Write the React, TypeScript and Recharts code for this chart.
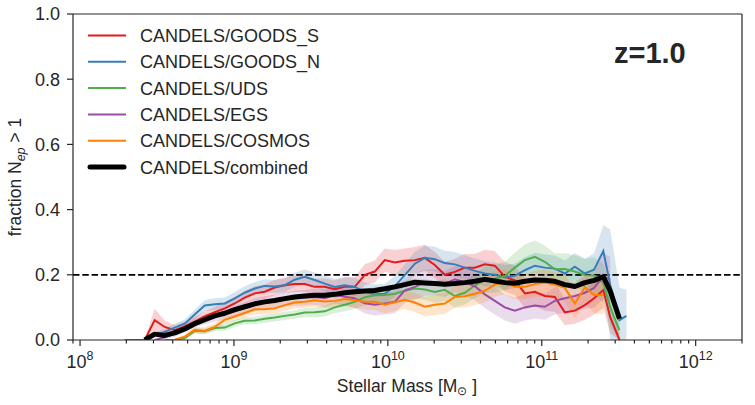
import React from 'react';
import { ComposedChart, Line, Area, XAxis, YAxis, ReferenceLine } from 'recharts';

// log10 stellar mass bin centres
const logMass = [
  8.29, 8.355, 8.42, 8.485, 8.55, 8.615, 8.68, 8.745, 8.81, 8.875,
  8.94, 9.005, 9.07, 9.135, 9.2, 9.265, 9.33, 9.395, 9.46, 9.525,
  9.59, 9.655, 9.72, 9.785, 9.85, 9.915, 9.98, 10.045, 10.11, 10.175,
  10.24, 10.305, 10.37, 10.435, 10.5, 10.565, 10.63, 10.695, 10.76, 10.825,
  10.89, 10.955, 11.02, 11.085, 11.15, 11.215, 11.28, 11.34, 11.4, 11.445,
  11.505, 11.55,
];

const goodsS = [
  null, null, 0, 0.061, 0.04, 0.03, 0.042, 0.056, 0.072, 0.085,
  0.097, 0.112, 0.13, 0.143, 0.148, 0.161, 0.168, 0.172, 0.172, 0.163,
  0.163, 0.156, 0.163, 0.163, 0.2, 0.21, 0.245, 0.238, 0.243, 0.245,
  0.252, 0.23, 0.2, 0.209, 0.222, 0.222, 0.232, 0.228, 0.194, 0.183,
  0.143, 0.148, 0.135, 0.132, 0.085, 0.09, 0.107, 0.128, 0.153, 0.07,
  0, null,
];
const goodsSErr = [
  null, null, 0, 0.035, 0.02, 0.015, 0.015, 0.015, 0.016, 0.017,
  0.018, 0.02, 0.02, 0.022, 0.022, 0.024, 0.024, 0.025, 0.025, 0.025,
  0.026, 0.027, 0.028, 0.03, 0.032, 0.034, 0.036, 0.038, 0.038, 0.04,
  0.04, 0.04, 0.04, 0.04, 0.042, 0.042, 0.045, 0.045, 0.045, 0.045,
  0.045, 0.045, 0.045, 0.045, 0.04, 0.04, 0.045, 0.05, 0.055, 0.05,
  0.02, null,
];

const goodsN = [
  0, 0, 0, 0.015, 0.025, 0.038, 0.05, 0.078, 0.106, 0.11,
  0.112, 0.128, 0.145, 0.158, 0.166, 0.164, 0.168, 0.185, 0.194, 0.184,
  0.173, 0.163, 0.168, 0.163, 0.148, 0.14, 0.142, 0.165, 0.199, 0.234,
  0.252, 0.248, 0.236, 0.232, 0.222, 0.212, 0.204, 0.2, 0.192, 0.197,
  0.214, 0.228, 0.222, 0.219, 0.204, 0.225, 0.204, 0.216, 0.273, 0.169,
  0.061, 0.074,
];
const goodsNErr = [
  0, 0, 0, 0.008, 0.01, 0.012, 0.013, 0.015, 0.017, 0.018,
  0.018, 0.019, 0.02, 0.02, 0.02, 0.02, 0.021, 0.022, 0.022, 0.023,
  0.024, 0.025, 0.026, 0.027, 0.028, 0.03, 0.03, 0.032, 0.034, 0.036,
  0.038, 0.038, 0.038, 0.038, 0.038, 0.038, 0.038, 0.038, 0.038, 0.038,
  0.04, 0.04, 0.04, 0.04, 0.04, 0.042, 0.045, 0.05, 0.08, 0.17,
  0.1, 0.08,
];

const uds = [
  null, null, null, null, null, 0, 0.006, 0.028, 0.027, 0.037,
  0.038, 0.051, 0.059, 0.06, 0.065, 0.069, 0.074, 0.078, 0.084, 0.085,
  0.088, 0.1, 0.108, 0.117, 0.131, 0.137, 0.138, 0.142, 0.151, 0.158,
  0.155, 0.147, 0.154, 0.135, 0.145, 0.167, 0.185, 0.188, 0.196, 0.222,
  0.245, 0.255, 0.24, 0.217, 0.218, 0.21, 0.199, 0.198, 0.175, 0.1,
  0.03, null,
];
const udsErr = [
  null, null, null, null, null, 0, 0.005, 0.008, 0.008, 0.009,
  0.01, 0.01, 0.011, 0.011, 0.012, 0.012, 0.013, 0.013, 0.014, 0.015,
  0.016, 0.018, 0.02, 0.022, 0.024, 0.026, 0.027, 0.028, 0.03, 0.031,
  0.032, 0.033, 0.034, 0.035, 0.036, 0.038, 0.04, 0.042, 0.044, 0.046,
  0.048, 0.05, 0.05, 0.048, 0.048, 0.05, 0.05, 0.055, 0.06, 0.06,
  0.03, null,
];

const egs = [
  null, null, null, 0, 0.008, 0.02, 0.035, 0.052, 0.063, 0.072,
  0.079, 0.088, 0.098, 0.108, 0.114, 0.118, 0.124, 0.128, 0.13, 0.132,
  0.128, 0.138, 0.133, 0.128, 0.113, 0.108, 0.112, 0.117, 0.152, 0.163,
  0.176, 0.177, 0.172, 0.186, 0.178, 0.165, 0.14, 0.12, 0.1, 0.09,
  0.1, 0.106, 0.102, 0.12, 0.128, 0.135, 0.145, 0.16, 0.195, 0.185,
  null, null,
];
const egsErr = [
  null, null, null, 0, 0.006, 0.01, 0.012, 0.014, 0.015, 0.016,
  0.017, 0.018, 0.019, 0.02, 0.02, 0.021, 0.022, 0.023, 0.024, 0.025,
  0.026, 0.027, 0.028, 0.03, 0.032, 0.033, 0.034, 0.036, 0.038, 0.04,
  0.04, 0.04, 0.04, 0.04, 0.042, 0.042, 0.042, 0.042, 0.04, 0.04,
  0.04, 0.04, 0.04, 0.042, 0.045, 0.045, 0.05, 0.06, 0.07, 0.07,
  null, null,
];

const cosmos = [
  null, null, null, null, 0, 0, 0.01, 0.031, 0.028, 0.04,
  0.062, 0.072, 0.083, 0.094, 0.094, 0.097, 0.107, 0.115, 0.117, 0.122,
  0.118, 0.12, 0.126, 0.122, 0.117, 0.117, 0.108, 0.116, 0.123, 0.115,
  0.102, 0.108, 0.112, 0.132, 0.134, 0.142, 0.151, 0.17, 0.178, 0.163,
  0.163, 0.172, 0.176, 0.17, 0.16, 0.112, 0.162, 0.138, 0.138, null,
  null, null,
];
const cosmosErr = [
  null, null, null, null, 0, 0.004, 0.007, 0.01, 0.01, 0.011,
  0.012, 0.013, 0.014, 0.015, 0.016, 0.016, 0.017, 0.018, 0.018, 0.019,
  0.02, 0.02, 0.021, 0.022, 0.024, 0.025, 0.026, 0.027, 0.028, 0.029,
  0.03, 0.031, 0.032, 0.033, 0.034, 0.035, 0.036, 0.037, 0.038, 0.038,
  0.038, 0.04, 0.04, 0.04, 0.042, 0.045, 0.05, 0.055, 0.06, null,
  null, null,
];

const combined = [
  null, null, 0, 0.018, 0.014, 0.022, 0.034, 0.05, 0.062, 0.074,
  0.082, 0.093, 0.102, 0.111, 0.117, 0.121, 0.127, 0.132, 0.135, 0.137,
  0.137, 0.14, 0.145, 0.148, 0.15, 0.152, 0.157, 0.163, 0.17, 0.177,
  0.175, 0.173, 0.171, 0.173, 0.176, 0.18, 0.186, 0.181, 0.176, 0.174,
  0.18, 0.184, 0.183, 0.18, 0.17, 0.164, 0.176, 0.183, 0.194, 0.15,
  0.065, null,
];

const yTicks = [0, 0.2, 0.4, 0.6, 0.8, 1.0];
const decades = [8, 9, 10, 11, 12];

const X_MIN = Math.log10(9e7);
const X_MAX = Math.log10(2e12);
const INK = '#262626';
const FONT = '"Liberation Sans", Arial, sans-serif';

const series = [
  { key: 'gs', label: 'CANDELS/GOODS_S', color: '#e41a1c', vals: goodsS, err: goodsSErr },
  { key: 'gn', label: 'CANDELS/GOODS_N', color: '#377eb8', vals: goodsN, err: goodsNErr },
  { key: 'uds', label: 'CANDELS/UDS', color: '#4daf4a', vals: uds, err: udsErr },
  { key: 'egs', label: 'CANDELS/EGS', color: '#984ea3', vals: egs, err: egsErr },
  { key: 'cos', label: 'CANDELS/COSMOS', color: '#ff7f00', vals: cosmos, err: cosmosErr },
];

const data = logMass.map((x, i) => {
  const row: Record<string, any> = { x, all: combined[i] };
  series.forEach((s) => {
    const v = s.vals[i];
    const e = s.err[i];
    row[s.key] = v;
    row[s.key + 'Band'] = v == null || e == null ? null : [Math.max(0, v - e), v + e];
  });
  return row;
});

// major ticks at each decade, minor ticks at 2..9 x 10^n
const xTicks: number[] = [];
decades.forEach((d) => {
  xTicks.push(d);
  for (let k = 2; k <= 9; k++) {
    const t = d + Math.log10(k);
    if (t <= X_MAX) xTicks.push(t);
  }
});
xTicks.push(7 + Math.log10(9));

const XTick = (props: any) => {
  const { x, y, payload } = props;
  const v = payload.value;
  const major = Math.abs(v - Math.round(v)) < 1e-6;
  return (
    <g>
      <line x1={x} x2={x} y1={y} y2={y + (major ? 6 : 3.5)} stroke={INK} strokeWidth={1.2} />
      {major && (
        <text x={x} y={y + 28} textAnchor="middle" fontSize={18} fill={INK} fontFamily={FONT}>
          <tspan>10</tspan>
          <tspan dy={-8} fontSize={12.5}>{Math.round(v)}</tspan>
        </text>
      )}
    </g>
  );
};

const XLabel = () => (
  <text x={407} y={392} textAnchor="middle" fontSize={17.5} fill={INK} fontFamily={FONT}>
    <tspan>Stellar Mass [M</tspan>
    <tspan dy={3} fontSize={12}>⊙</tspan>
    <tspan dy={-3}> ]</tspan>
  </text>
);

const YLabel = () => (
  <text
    x={0}
    y={0}
    transform="translate(21,177) rotate(-90)"
    textAnchor="middle"
    fontSize={17.5}
    fill={INK}
    fontFamily={FONT}
  >
    <tspan>fraction N</tspan>
    <tspan dy={4} fontSize={12.5} fontStyle="italic">ep</tspan>
    <tspan dy={-4}> &gt; 1</tspan>
  </text>
);

const LegendBox = () => (
  <svg width={755} height={405} style={{ position: 'absolute', left: 0, top: 0, pointerEvents: 'none' }}>
    {series.map((s, i) => (
      <g key={s.key}>
        <line x1={88} x2={126} y1={35.5 + i * 26.3} y2={35.5 + i * 26.3} stroke={s.color} strokeWidth={2} />
        <text x={140} y={42 + i * 26.3} fontSize={18} fill={INK} fontFamily={FONT}>{s.label}</text>
      </g>
    ))}
    <line x1={90} x2={124} y1={35.5 + 5 * 26.3} y2={35.5 + 5 * 26.3} stroke="#000" strokeWidth={5} strokeLinecap="round" />
    <text x={140} y={42 + 5 * 26.3} fontSize={18} fill={INK} fontFamily={FONT}>CANDELS/combined</text>
    <text x={614} y={63} fontSize={29} fontWeight="bold" fill={INK} fontFamily={FONT}>z=1.0</text>
  </svg>
);

export default function App() {
  return (
    <div style={{ position: 'absolute', left: 0, top: 0, width: 755, height: 405, background: '#fff' }}>
      <ComposedChart
        width={755}
        height={405}
        data={data}
        margin={{ top: 14, right: 13, left: 13, bottom: 0 }}
      >
        <XAxis
          type="number"
          dataKey="x"
          domain={[X_MIN, X_MAX]}
          allowDataOverflow
          ticks={xTicks}
          interval={0}
          tick={<XTick />}
          tickLine={false}
          tickSize={0}
          tickMargin={0}
          height={65}
          axisLine={{ stroke: INK, strokeWidth: 1.2 }}
          label={<XLabel />}
        />
        <YAxis
          type="number"
          domain={[0, 1]}
          allowDataOverflow
          ticks={yTicks}
          tickFormatter={(v: number) => v.toFixed(1)}
          tick={{ fontSize: 18, fill: INK, fontFamily: FONT }}
          tickLine={{ stroke: INK, strokeWidth: 1.2 }}
          tickSize={6}
          tickMargin={7}
          width={60}
          axisLine={{ stroke: INK, strokeWidth: 1.2 }}
          label={<YLabel />}
        />
        <ReferenceLine y={1} stroke={INK} strokeWidth={1.2} />
        <ReferenceLine x={X_MAX} stroke={INK} strokeWidth={1.2} />
        <ReferenceLine y={0.2} stroke="#000" strokeWidth={1.8} strokeDasharray="6.5 2.8" />
        {series.map((s) => (
          <Area
            key={s.key + 'Band'}
            dataKey={s.key + 'Band'}
            type="linear"
            stroke="none"
            fill={s.color}
            fillOpacity={0.2}
            isAnimationActive={false}
            activeDot={false}
          />
        ))}
        {series.map((s) => (
          <Line
            key={s.key}
            dataKey={s.key}
            type="linear"
            stroke={s.color}
            strokeWidth={2}
            dot={false}
            activeDot={false}
            isAnimationActive={false}
          />
        ))}
        <Line
          dataKey="all"
          type="linear"
          stroke="#000"
          strokeWidth={5}
          strokeLinejoin="round"
          dot={false}
          activeDot={false}
          isAnimationActive={false}
        />
      </ComposedChart>
      <LegendBox />
    </div>
  );
}
